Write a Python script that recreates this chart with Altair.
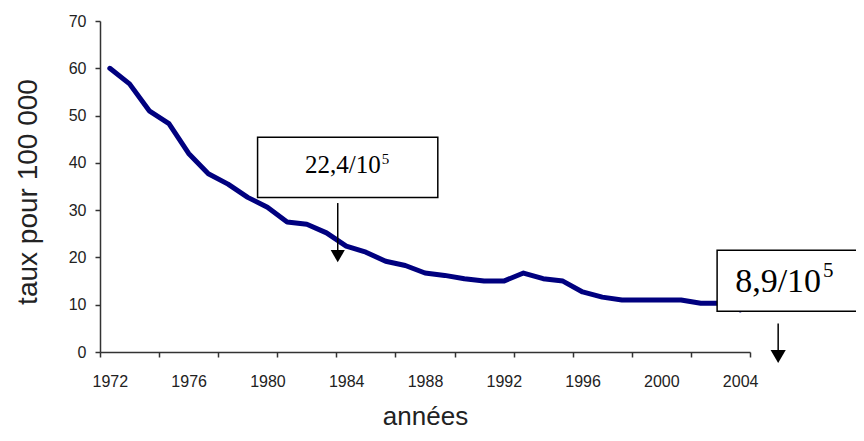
import altair as alt
import pandas as pd

# ---- data ----
years = list(range(1972, 2005))
rates = [60.0, 56.7, 51.0, 48.3, 42.0, 37.7, 35.5, 32.7, 30.6, 27.5,
         27.0, 25.2, 22.4, 21.1, 19.2, 18.3, 16.7, 16.2, 15.5, 15.0,
         15.0, 16.7, 15.5, 15.0, 12.7, 11.6, 11.0, 11.0, 11.0, 11.0,
         10.3, 10.3, 8.9]

tick_positions = [1971.5 + 3 * k for k in range(12)]
label_years = [1972 + 4 * k for k in range(9)]
y_ticks = [0, 10, 20, 30, 40, 50, 60, 70]

x_title = "années"
y_title = "taux pour 100 000"

ann_text = ["22,4/10", "8,9/10"]
ann_sup = ["5", "5"]

df = pd.DataFrame({"year": years, "rate": rates})

X_DOMAIN = [1971.5, 2004.5]
xscale = alt.Scale(domain=X_DOMAIN, nice=False, zero=False)
yscale = alt.Scale(domain=[0, 70], nice=False, zero=True)

x_axis = alt.Axis(
    values=sorted(tick_positions + label_years),
    format="d",
    labelExpr="datum.value % 1 == 0 ? datum.label : ''",
    tickOpacity={"condition": {"test": "datum.value % 1 != 0", "value": 1}, "value": 0},
    labelOverlap=False, labelFlush=False, labelBound=False,
    title=x_title,
)
y_axis = alt.Axis(values=y_ticks, title=y_title)

X = lambda f: alt.X(f, scale=xscale, axis=x_axis)
Y = lambda f: alt.Y(f, scale=yscale, axis=y_axis)

line = alt.Chart(df).mark_line(color="#00007F", strokeWidth=5,
                               strokeJoin="round", strokeCap="round").encode(
    x=X("year:Q"), y=Y("rate:Q"))

boxes = pd.DataFrame({
    "x": [1979.5, 2002.83], "x2": [1988.65, 2012.0],
    "y": [45.4, 21.5], "y2": [32.7, 8.6],
})
rects = alt.Chart(boxes).mark_rect(fill="white", stroke="black", strokeWidth=1.5).encode(
    x=X("x:Q"), x2="x2", y=Y("y:Q"), y2="y2")

texts = pd.DataFrame({"x": [1985.75, 2008.11], "y": [37.8, 12.62],
                      "t": ann_text, "size": [25, 34]})
main_txt = alt.Chart(texts).mark_text(font="Liberation Serif", align="right",
                                       baseline="alphabetic", color="black").encode(
    x=X("x:Q"), y=Y("y:Q"), text="t:N",
    size=alt.Size("size:Q", scale=None, legend=None))

sups = pd.DataFrame({"x": [1985.8, 2008.2], "y": [39.7, 15.8],
                     "t": ann_sup, "size": [15, 21]})
sup_txt = alt.Chart(sups).mark_text(font="Liberation Serif", align="left",
                                     baseline="alphabetic", color="black").encode(
    x=X("x:Q"), y=Y("y:Q"), text="t:N",
    size=alt.Size("size:Q", scale=None, legend=None))

arrows = pd.DataFrame({"x": [1983.57, 2005.93], "y": [31.5, 6.05], "y2": [20.9, -0.3]})
shafts = alt.Chart(arrows).mark_rule(color="black", strokeWidth=1.5).encode(
    x=X("x:Q"), y=Y("y:Q"), y2="y2")

heads_df = pd.DataFrame({"x": [1983.57, 2005.93], "y": [20.26, -0.95], "s": [200, 230]})
heads = alt.Chart(heads_df).mark_point(shape="triangle-down", filled=True,
                                        color="black", opacity=1).encode(
    x=X("x:Q"), y=Y("y:Q"),
    size=alt.Size("s:Q", scale=None, legend=None))

chart = alt.layer(line, rects, main_txt, sup_txt, shafts, heads).properties(
    width=650, height=331,
    autosize=alt.AutoSizeParams(type="none"),
    padding={"left": 92, "top": 13, "right": 106, "bottom": 81},
    background="white",
).configure_view(stroke=None).configure_axis(
    tickSize=5, tickColor="#333", tickWidth=1.5,
    domainColor="#333", domainWidth=1.5,
    labelFont="Liberation Sans", labelFontSize=16, labelColor="#222",
    grid=False,
    titleFont="Liberation Sans", titleFontWeight="normal", titleColor="#222",
).configure_axisX(
    labelPadding=16, titleFontSize=26, titleBaseline="alphabetic", titleY=72,
).configure_axisY(
    labelPadding=9, titleFontSize=28, titleAngle=270, titleBaseline="alphabetic",
    titleAlign="center", titleX=-63.5, titleY=170.5,
)

chart.save("out.html", embed_options={"renderer": "svg", "actions": False})
